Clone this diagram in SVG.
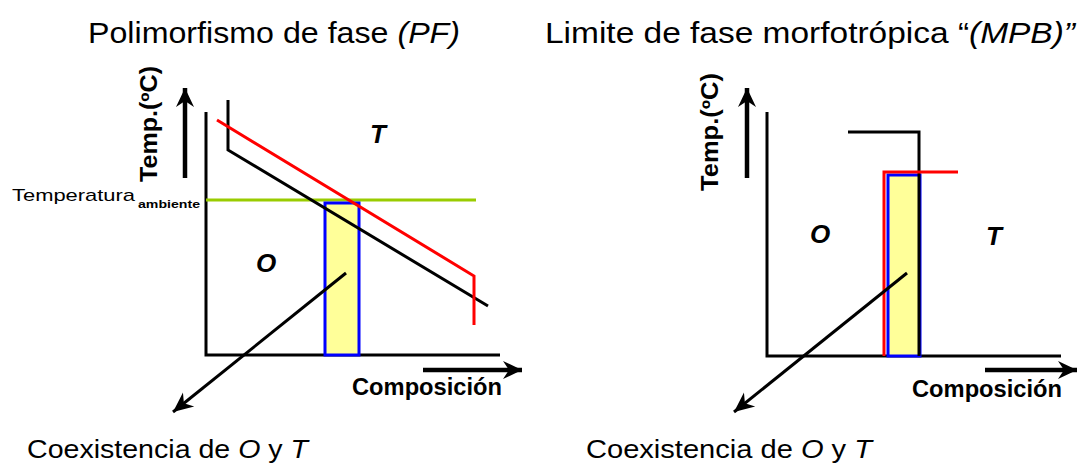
<svg xmlns="http://www.w3.org/2000/svg" width="1078" height="469" viewBox="0 0 1078 469">
<defs>
<style>
text{font-family:"Comic Sans MS","Liberation Sans",sans-serif;fill:#000}
.title{font-size:29px}
.it{font-style:italic}
.axlab{font-size:23px;font-weight:bold}
.phase{font-size:26px;font-style:italic;font-weight:bold}
.coex{font-size:25px}
.ax{stroke:#000;stroke-width:3;fill:none}
.blk{stroke:#000;stroke-width:3;fill:none}
.red{stroke:#FF0000;stroke-width:3;fill:none}
.grn{stroke:#99CC00;stroke-width:3;fill:none}
.band{fill:#FFFF99;stroke:#0000FF;stroke-width:3}
.thick{stroke:#000;stroke-width:4.5;fill:none}
.ptr{stroke:#000;stroke-width:3;fill:none}
</style>
<marker id="bigHead" markerUnits="userSpaceOnUse" viewBox="-20 -10 22 20" refX="0" refY="0" markerWidth="22" markerHeight="20" orient="auto">
<path d="M0,0 L-19,-9 L-13,0 L-19,9 Z" fill="#000"/>
</marker>
<marker id="ptrHead" markerUnits="userSpaceOnUse" viewBox="-22 -10 24 20" refX="0" refY="0" markerWidth="24" markerHeight="20" orient="auto">
<path d="M0,0 L-20,-9 L-14,0 L-20,9 Z" fill="#000"/>
</marker>
</defs>
<rect width="1078" height="469" fill="#fff"/>

<g id="title-pf">
<text class="title" x="88" y="43" textLength="372" lengthAdjust="spacingAndGlyphs">Polimorfismo de fase <tspan class="it">(PF)</tspan></text>
</g>
<g id="title-mpb">
<text class="title" x="545" y="43" textLength="530" lengthAdjust="spacingAndGlyphs">Limite de fase morfotrópica “<tspan class="it">(MPB)”</tspan></text>
</g>

<g id="chart-pf">
<polyline class="ax" points="206,112 206,355 500,355"/>
<line class="grn" x1="206" y1="200" x2="476" y2="200"/>
<rect class="band" x="325" y="203" width="34" height="152"/>
<polyline class="blk" points="228,100 228,150 488,306"/>
<polyline class="red" points="217,120 474,276 474,325"/>
<text class="phase" x="370" y="143">T</text>
<text class="phase" x="256" y="272">O</text>
<text style="font-size:17px" x="12" y="201" textLength="123" lengthAdjust="spacingAndGlyphs">Temperatura</text>
<text style="font-size:10px;font-weight:bold" x="138" y="208" textLength="62" lengthAdjust="spacingAndGlyphs">ambiente</text>
<text class="axlab" transform="translate(157,182) rotate(-90)" textLength="116" lengthAdjust="spacingAndGlyphs">Temp.(ºC)</text>
<text class="axlab" x="352" y="395" textLength="150" lengthAdjust="spacingAndGlyphs">Composición</text>
<text class="coex" x="27" y="458" textLength="281" lengthAdjust="spacingAndGlyphs">Coexistencia de <tspan class="it">O</tspan> y <tspan class="it">T</tspan></text>
</g>

<g id="chart-mpb">
<polyline class="ax" points="767,112 767,356 1061,356"/>
<rect class="band" x="888" y="175" width="32" height="181"/>
<polyline class="blk" points="848,132 919,132 919,356"/>
<polyline class="red" points="884,356 884,172 958,172"/>
<text class="phase" x="810" y="243">O</text>
<text class="phase" x="986" y="245">T</text>
<text class="axlab" transform="translate(718,191) rotate(-90)" textLength="118" lengthAdjust="spacingAndGlyphs">Temp.(ºC)</text>
<text class="axlab" x="912" y="397" textLength="150" lengthAdjust="spacingAndGlyphs">Composición</text>
<text class="coex" x="586" y="458" textLength="286" lengthAdjust="spacingAndGlyphs">Coexistencia de <tspan class="it">O</tspan> y <tspan class="it">T</tspan></text>
</g>

<g id="connectors">
<line class="thick" x1="185" y1="178" x2="185" y2="88" marker-end="url(#bigHead)"/>
<line class="thick" x1="423" y1="370" x2="522" y2="370" marker-end="url(#bigHead)"/>
<line class="ptr" x1="346" y1="273" x2="173" y2="412" marker-end="url(#ptrHead)"/>
<line class="thick" x1="747" y1="178" x2="747" y2="88" marker-end="url(#bigHead)"/>
<line class="thick" x1="985" y1="370" x2="1077" y2="370" marker-end="url(#bigHead)"/>
<line class="ptr" x1="907" y1="273" x2="734" y2="412" marker-end="url(#ptrHead)"/>
</g>
</svg>
